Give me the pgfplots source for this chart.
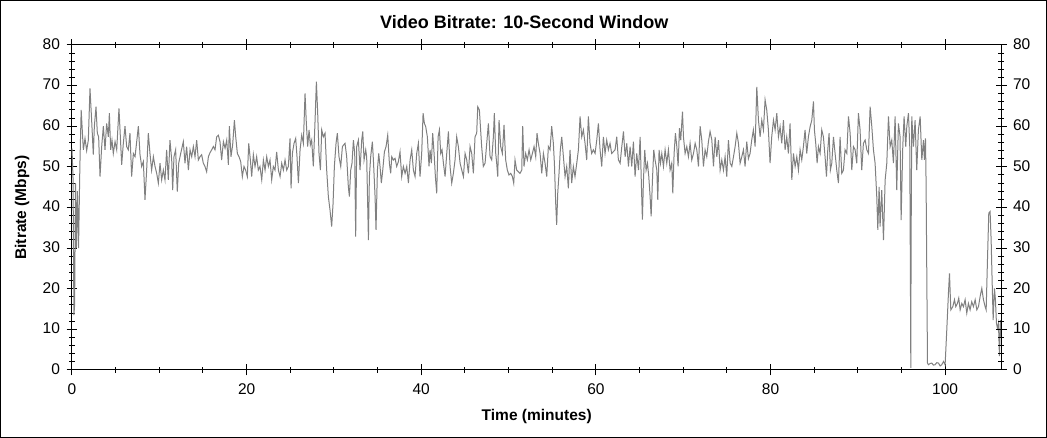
\documentclass[border=0pt]{standalone}
\usepackage{fontspec}
\setmainfont{Liberation Sans}
\usepackage{pgfplots}
\pgfplotsset{compat=1.18}

\definecolor{linegray}{RGB}{128,128,128}

\pgfplotsset{
  bitrate axis/.style={
    at={(72pt,68pt)}, anchor=south west,
    scale only axis, width=929pt, height=325pt,
    xmin=0, xmax=106.4, ymin=0, ymax=80,
    xtick={0,20,...,100}, ytick={0,10,...,80},
    minor x tick num=3, minor y tick num=4,
    tick align=center,
    major tick length=11pt, minor tick length=6pt,
    every tick/.style={black, line width=1pt},
    axis line style={black, line width=1pt},
    /pgf/number format/assume math mode=true,
    ticklabel style={font=\fontsize{15.5}{18}\selectfont},
    clip=false,
  },
}

\begin{document}
\begin{tikzpicture}[x=1pt,y=1pt]
\draw[black, line width=1pt] (0.5,0.5) rectangle (1046.5,437.5);

\begin{axis}[bitrate axis,
  xtick pos=both, ytick pos=left,
  xticklabel pos=bottom, yticklabel pos=left,
  xticklabel style={anchor=base, yshift=-19pt},
  yticklabel style={anchor=east, xshift=-3pt, yshift=1pt},
]
\addplot[linegray, line width=1pt] coordinates {
(0.00,54.5) (0.12,47) (0.22,13.5) (0.30,16) (0.40,46) (0.50,30) (0.62,44) (0.75,30) (0.90,50) (1.05,64)
(1.30,54.2) (1.49,57) (1.68,54) (1.87,56.6) (2.06,69.3) (2.25,61.5) (2.44,53) (2.56,60) (2.75,64.8) (2.90,58.3)
(3.05,57.4) (3.21,47.6) (3.40,55) (3.59,60) (3.78,54.2) (3.97,60.7) (4.16,57.4) (4.28,63.2) (4.43,54.2) (4.58,56.6)
(4.73,53.3) (4.93,56.2) (5.12,54.2) (5.38,64.4) (5.50,59.1) (5.69,50.5) (5.88,55.8) (6.07,60) (6.26,55) (6.45,54.2)
(6.64,58.3) (6.83,47.6) (7.03,53.3) (7.22,52.5) (7.41,56.2) (7.60,60) (7.79,53) (7.98,50.1) (8.17,51.3) (8.36,41.9)
(8.55,49.2) (8.74,58.3) (8.93,53.3) (9.12,49.2) (9.32,52.5) (9.51,50.1) (9.70,48.4) (9.89,46) (10.08,50.9) (10.27,46.8)
(10.46,49.2) (10.65,46.8) (10.84,54.2) (11.03,46.8) (11.22,56.6) (11.42,51.7) (11.53,44.3) (11.68,52.5) (11.87,54.2) (12.06,43.9)
(12.22,50.9) (12.45,53.3) (12.75,56.2) (12.94,50.9) (13.13,55) (13.33,49.2) (13.52,54.2) (13.71,52.5) (13.90,55) (14.09,52.5)
(14.28,56.6) (14.47,51.7) (14.66,52.5) (14.85,53) (15.04,50.9) (15.23,50.1) (15.42,48.8) (15.62,52.5) (15.81,53.5)
(16.00,54.2) (16.19,55) (16.38,54.2) (16.57,57.4) (16.76,57.8) (16.95,56.2) (17.14,51.7) (17.34,56.2) (17.53,54.6) (17.72,56.6)
(17.91,50.5) (18.02,60) (18.21,52.5) (18.40,55.4) (18.60,61.5) (18.75,57.4) (18.94,53.3) (19.13,52.5) (19.32,51.3) (19.51,47.6)
(19.70,50.1) (19.89,49.2) (20.08,47.6) (20.24,55.8) (20.43,51.7) (20.58,47.6) (20.77,53) (20.96,50.1) (21.15,52.5) (21.34,49.2)
(21.53,50.1) (21.73,46.8) (21.92,51.7) (22.11,49.2) (22.30,52.5) (22.49,50.1) (22.68,51.7) (22.87,46.8) (23.06,50.1) (23.25,49.2)
(23.44,53.7) (23.64,49.2) (23.83,47.6) (24.02,50.9) (24.21,49.2) (24.40,51.7) (24.59,49.2) (24.78,50.1) (24.97,57) (25.09,44.7)
(25.24,53.3) (25.43,55.8) (25.62,57) (25.77,52.5) (25.93,46) (26.12,54.2) (26.31,57.8) (26.50,55.8) (26.69,68.1) (26.84,60.7)
(26.99,55) (27.15,59.1) (27.30,55.4) (27.45,56.6) (27.64,50.1) (27.84,61.5) (27.99,71) (28.14,63.2) (28.29,53.3) (28.45,49.2)
(28.60,59.1) (28.79,57.4) (28.98,58.3) (29.17,49.2) (29.36,42.7) (29.55,39.4) (29.74,35.3) (29.90,41) (30.05,50.1) (30.24,55.8)
(30.39,58.3) (30.58,52.5) (30.78,50.1) (30.97,55) (31.27,55.8) (31.46,52.5) (31.65,45.1) (31.77,42.7) (31.92,49.2) (32.07,50.9)
(32.23,56.6) (32.38,53.3) (32.49,32.8) (32.61,55) (32.80,56.6) (32.99,49.2) (33.18,56.6) (33.30,58.7) (33.45,51.7) (33.64,54.2)
(33.75,52.5) (33.95,32) (34.06,47.6) (34.21,52.5) (34.40,56.2) (34.52,51.7) (34.71,42.7) (34.82,34.5) (34.98,49.2) (35.13,53.3)
(35.28,50.1) (35.43,46) (35.59,49.2) (35.78,53.7) (35.97,55) (36.16,57.8) (36.35,50.9) (36.50,48.4) (36.62,52.5) (36.81,51.7)
(37.00,52.1) (37.19,50.1) (37.38,51.3) (37.57,53.7) (37.76,47.6) (37.95,50.1) (38.15,48.4) (38.34,50.1) (38.53,46) (38.72,51.7)
(38.91,54.2) (39.10,49.2) (39.29,47.6) (39.48,53.3) (39.67,55.8) (39.86,47.6) (40.05,53.3) (40.21,63.2) (40.36,60.7) (40.51,59.9)
(40.70,57.4) (40.89,50.1) (41.01,54.2) (41.16,50.9) (41.31,58.3) (41.47,53.3) (41.62,47.6) (41.77,43.5) (41.93,57.4) (42.08,59.1)
(42.23,53.3) (42.38,54.2) (42.54,50.9) (42.73,47.6) (42.92,53.3) (43.11,58.7) (43.30,50.1) (43.49,46) (43.68,48.4) (43.87,51.7)
(44.06,57.4) (44.25,55) (44.45,50.9) (44.64,49.2) (44.83,47.6) (45.02,53.3) (45.21,51.7) (45.40,48.4) (45.59,55) (45.78,53.3)
(45.97,48.4) (46.16,57.4) (46.35,58.3) (46.47,64.8) (46.66,64) (46.73,61.5) (46.92,55) (47.11,50.1) (47.31,50.9) (47.50,55.8)
(47.69,60.7) (47.88,52.5) (48.07,51.7) (48.26,57.4) (48.37,63.2) (48.53,53.3) (48.64,50.9) (48.76,47.6) (48.91,61.5) (49.10,55)
(49.29,53.3) (49.48,60.3) (49.67,51.7) (49.86,49.2) (50.05,48) (50.25,48.4) (50.44,47.6) (50.59,46) (50.74,51.7) (50.93,49.2)
(51.12,48.8) (51.31,48.4) (51.51,49.2) (51.62,60) (51.77,50.1) (51.96,53.3) (52.15,51.7) (52.35,54.2) (52.54,51.7) (52.73,53.3)
(52.92,55) (53.11,52.5) (53.26,58.3) (53.41,55.8) (53.61,53.3) (53.80,48.4) (53.99,53.3) (54.18,50.9) (54.37,47.6) (54.56,55)
(54.75,54.2) (54.94,60) (55.13,55.8) (55.25,50.9) (55.40,41) (55.51,35.7) (55.63,43.5) (55.78,48.4) (55.93,54.2) (56.09,57.4)
(56.28,52.5) (56.47,47.6) (56.66,50.1) (56.85,44.7) (57.04,54.2) (57.23,46) (57.42,50.1) (57.61,47.6) (57.81,50.9) (58.00,54.2)
(58.19,62.4) (58.38,57.4) (58.57,59.1) (58.76,55.8) (58.95,51.7) (59.14,62.4) (59.33,55.8) (59.52,53.3) (59.71,54.2) (59.91,53.3)
(60.10,56.6) (60.29,60.7) (60.48,54.2) (60.67,50.1) (60.86,57.4) (61.05,53.3) (61.24,56.6) (61.43,54.2) (61.62,55.8) (61.81,53.3)
(62.20,54.2) (62.39,57.4) (62.58,51.7) (62.78,50.9) (62.97,55) (63.16,58.7) (63.35,52.5) (63.54,55.8) (63.73,50.1) (63.92,55)
(64.11,50.1) (64.30,56.2) (64.49,47.6) (64.68,53.3) (64.88,49.2) (65.07,57.4) (65.22,45.1) (65.33,37) (65.45,46.8) (65.60,54.2)
(65.75,49.2) (65.91,50.9) (66.06,47.6) (66.21,42.7) (66.33,37.8) (66.48,46.8) (66.63,54.2) (66.78,51.7) (66.98,49.2) (67.09,41.9)
(67.24,54.2) (67.40,50.9) (67.55,53.3) (67.74,50.1) (67.93,54.2) (68.12,50.9) (68.31,54.2) (68.50,49.2) (68.69,50.9) (68.81,43.5)
(68.96,53.3) (69.11,58.3) (69.27,55) (69.42,50.1) (69.57,59.5) (69.72,56.6) (69.92,63.6) (70.03,57.4) (70.22,53.3) (70.41,55)
(70.60,52.5) (70.79,55.8) (70.98,51.7) (71.18,53.3) (71.37,55.8) (71.56,54.2) (71.75,50.1) (71.94,60) (72.13,56.6) (72.32,50.1)
(72.51,54.2) (72.70,52.5) (72.89,56.2) (73.08,58.7) (73.28,56.6) (73.47,50.1) (73.66,57.4) (73.85,52.5) (74.04,56.6) (74.23,49.2)
(74.42,51.7) (74.61,49.2) (74.80,52.5) (74.99,47.6) (75.18,56.6) (75.38,50.9) (75.57,50.1) (75.76,52.5) (75.95,55) (76.14,58.3)
(76.33,55.8) (76.52,50.9) (76.71,52.5) (76.90,54.2) (77.09,50.1) (77.28,56.2) (77.47,52) (77.66,53.3) (77.85,56.6) (78.04,59.1)
(78.24,55) (78.43,69.7) (78.62,61.5) (78.81,57.4) (79.00,61.5) (79.19,59.1) (79.38,66.5) (79.57,64) (79.76,59.1) (79.95,50.9)
(80.14,57.4) (80.34,61.5) (80.53,59.1) (80.72,63.2) (80.91,57.4) (81.10,59.9) (81.29,55.8) (81.48,61.5) (81.67,54.2) (81.86,57.4)
(82.05,53.3) (82.24,60.7) (82.44,46.8) (82.63,53.3) (82.82,50.1) (83.01,52.5) (83.20,49.2) (83.39,54.2) (83.58,51.7) (83.77,55)
(83.96,59.1) (84.15,53.3) (84.34,57.4) (84.54,59.9) (84.73,61.5) (84.92,66.1) (85.03,59.1) (85.18,55.8) (85.34,50.9) (85.49,55)
(85.68,53.3) (85.87,59.1) (86.06,57.4) (86.25,52.5) (86.41,47.6) (86.56,54.2) (86.71,58.3) (86.86,49.2) (87.02,50.9) (87.21,57.4)
(87.40,53.3) (87.59,49.2) (87.78,46) (87.97,57.4) (88.16,48.4) (88.35,49.2) (88.54,54.2) (88.74,53.3) (88.93,62.4) (89.12,58.3)
(89.31,49.2) (89.50,55) (89.69,54.2) (89.88,50.9) (90.07,63.2) (90.26,59.1) (90.45,49.2) (90.64,55.8) (90.84,56.6) (91.03,54.2)
(91.22,53.3) (91.41,64.8) (91.60,60) (91.79,54.2) (91.98,50.9) (92.17,42.7) (92.29,34.5) (92.44,45.1) (92.55,35.3) (92.74,44.3)
(92.94,32) (93.13,46.8) (93.32,50.9) (93.51,62.4) (93.70,55) (93.89,56.6) (94.08,50.9) (94.27,62.4) (94.46,44.3) (94.65,60.7)
(94.84,57.4) (94.96,36.9) (95.15,55) (95.30,62.4) (95.49,55) (95.61,59.9) (95.80,63.2) (95.95,55) (96.03,20) (96.07,0.5)
(96.10,30) (96.18,62.4) (96.37,55) (96.56,61.5) (96.75,49.2) (96.94,59.1) (97.14,62.4) (97.33,51.7) (97.52,56.6) (97.63,51.7)
(97.75,57) (97.82,46) (97.98,1.7) (98.09,1.3) (98.28,1.6) (98.47,1.7) (98.66,1.2) (98.85,1.3) (99.04,1.8) (99.24,1.7)
(99.43,1.0) (99.62,1.3) (99.81,2.1) (100.00,1.3) (100.19,9.9) (100.38,18.9) (100.50,23.8) (100.65,14.8) (100.88,15.6) (101.07,17.3)
(101.22,15.6) (101.41,16.4) (101.56,17.7) (101.72,14.8) (101.91,16.4) (102.10,15.6) (102.29,17.3) (102.48,14) (102.67,16.4) (102.86,14.8)
(103.05,16.8) (103.24,15.6) (103.44,17.3) (103.63,14.8) (103.82,15.6) (104.01,18.1) (104.20,20.1) (104.39,17.3) (104.58,15.6) (104.70,14.8)
(104.85,27.1) (105.00,38.6) (105.15,39) (105.27,32) (105.38,22.2) (105.50,12.3) (105.65,20.1) (105.76,17.3) (105.88,11.5) (105.99,10.3)
(106.11,11.5) (106.22,3.4) (106.34,12.3) (106.40,8.2)
};
\end{axis}

\begin{axis}[bitrate axis,
  hide x axis, axis y line*=right,
  yticklabel style={anchor=west, xshift=3pt, yshift=1pt},
]
\addplot[draw=none] coordinates {(0,0)};
\end{axis}

\node[anchor=base, font=\fontsize{18}{21}\selectfont\bfseries] at (524.2,409.7) {Video Bitrate: 10-Second Window};
\node[anchor=base, font=\fontsize{15.5}{18}\selectfont\bfseries] at (536.7,17.3) {Time (minutes)};
\node[anchor=base, rotate=90, font=\fontsize{15.5}{18}\selectfont\bfseries] at (26,230.5) {Bitrate (Mbps)};
\end{tikzpicture}
\end{document}
